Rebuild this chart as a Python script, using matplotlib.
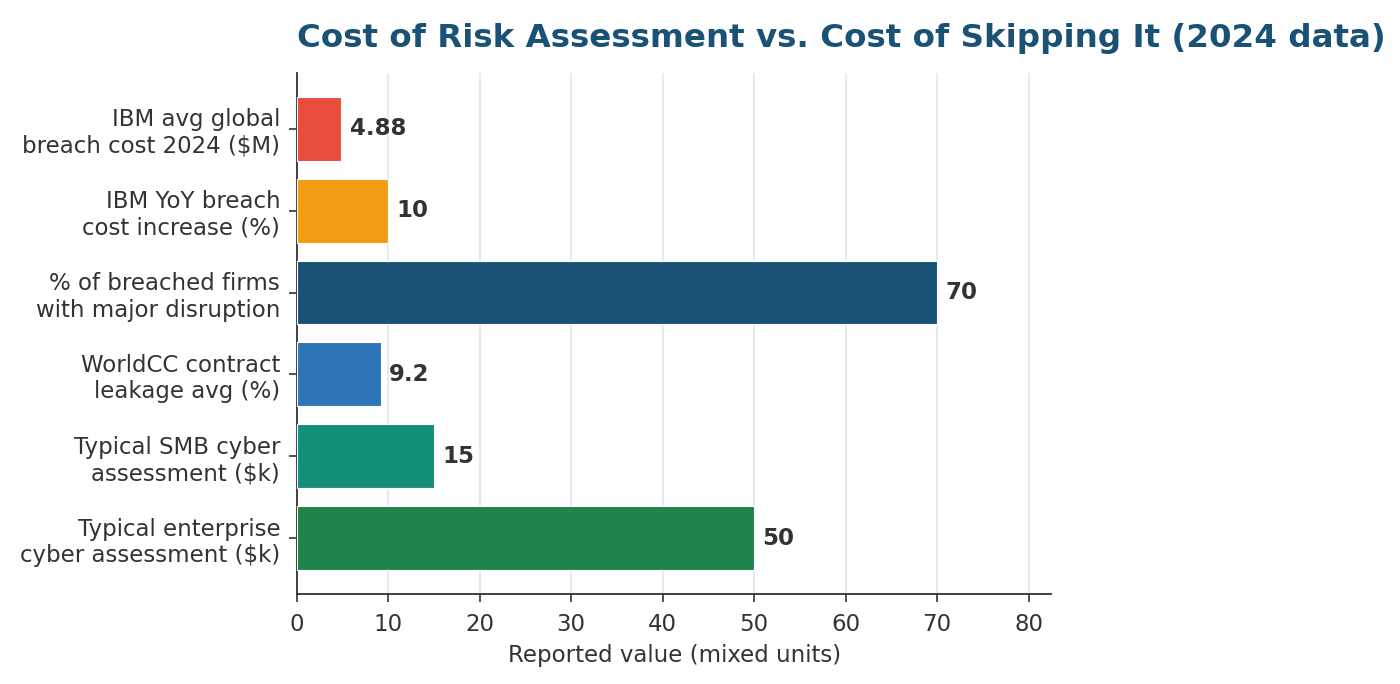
import matplotlib
matplotlib.use("Agg")
import matplotlib.pyplot as plt

categories = [
    "IBM avg global\nbreach cost 2024 ($M)",
    "IBM YoY breach\ncost increase (%)",
    "% of breached firms\nwith major disruption",
    "WorldCC contract\nleakage avg (%)",
    "Typical SMB cyber\nassessment ($k)",
    "Typical enterprise\ncyber assessment ($k)",
]
values = [4.88, 10, 70, 9.2, 15, 50]
value_labels = ["4.88", "10", "70", "9.2", "15", "50"]
colors = ["#e74c3c", "#f39c12", "#1a5276", "#2e75b6", "#148f77", "#1e8449"]

plt.rcParams['font.family'] = ['DejaVu Sans']
fig = plt.figure(figsize=(14, 6.84), dpi=100)
ax = fig.add_axes([0.212, 0.132, 0.539, 0.761])

y = list(range(len(categories)))
bars = ax.barh(y, values, height=0.78, color=colors, edgecolor="white", linewidth=0.8, zorder=3)
ax.invert_yaxis()
ax.set_yticks(y)
ax.set_yticklabels(categories, fontsize=16.5, color="#333333")
ax.set_xlim(0, 82.5)
ax.set_xticks([0, 10, 20, 30, 40, 50, 60, 70, 80])
ax.tick_params(axis='x', labelsize=16.5, colors="#333333", length=6, width=1.2, pad=8)
ax.tick_params(axis='y', colors="#333333", length=6, width=1.2, pad=6)
ax.grid(axis='x', color="#e3e7f1", linewidth=1.3, zorder=0)
ax.set_axisbelow(True)
for s in ["top", "right"]:
    ax.spines[s].set_visible(False)
for s in ["left", "bottom"]:
    ax.spines[s].set_color("#333333")
    ax.spines[s].set_linewidth(1.3)

ax.bar_label(bars, labels=value_labels, padding=6, fontsize=16.5, fontweight="bold", color="#333333")
ax.set_xlabel("Reported value (mixed units)", fontsize=16.5, color="#333333", labelpad=6)
ax.set_title("Cost of Risk Assessment vs. Cost of Skipping It (2024 data)", loc="left",
             fontsize=23.4, fontweight="bold", color="#1a5276", pad=19)

fig.savefig("out.png", dpi=100)
